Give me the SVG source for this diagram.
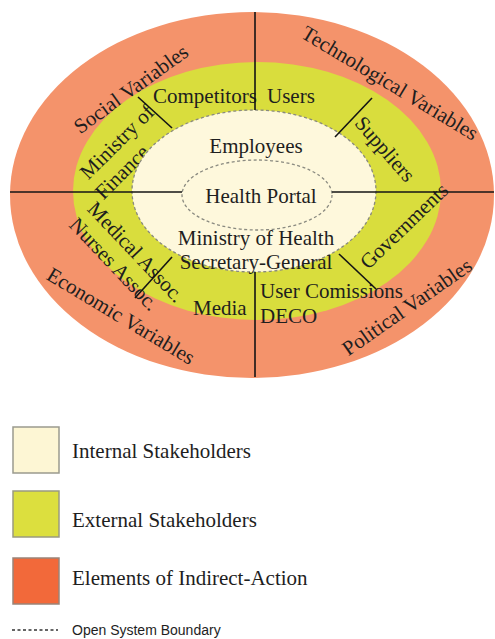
<svg xmlns="http://www.w3.org/2000/svg" width="495" height="639" viewBox="0 0 495 639">
  <style>
    .lbl { font-family: "Liberation Serif", "Times New Roman", serif; font-size: 21px; fill: #1e1e1e; }
    .mid { text-anchor: middle; }
    .sans { font-family: "Liberation Sans", Arial, sans-serif; font-size: 14px; fill: #1e1e1e; }
    .div { stroke: #141414; stroke-width: 1.6; fill: none; }
    .bound { stroke: #8a8a80; stroke-width: 1.3; stroke-dasharray: 3 2.5; }
  </style>
  <rect width="495" height="639" fill="#ffffff"/>

  <!-- Outer ring: elements of indirect action -->
  <g id="indirect-action">
    <ellipse cx="252" cy="195" rx="242" ry="183" fill="#F4936B"/>
    <text class="lbl mid" transform="translate(131,89) rotate(-36)" dy="7">Social Variables</text>
    <text class="lbl mid" transform="translate(390,83) rotate(31)" dy="7" font-size="20">Technological Variables</text>
    <text class="lbl mid" transform="translate(121,316) rotate(31)" dy="7">Economic Variables</text>
    <text class="lbl mid" transform="translate(407,307) rotate(-35)" dy="7">Political Variables</text>
  </g>

  <!-- Middle ring: external stakeholders -->
  <g id="external-stakeholders">
    <ellipse cx="257" cy="191" rx="184" ry="129" fill="#D9DD3D"/>
    <text class="lbl" x="153" y="103">Competitors</text>
    <text class="lbl" x="267" y="103">Users</text>
    <text class="lbl mid" transform="translate(117,142) rotate(-45)" dy="7">Ministry of</text>
    <text class="lbl mid" transform="translate(122,172) rotate(-45)" dy="7">Finance</text>
    <text class="lbl mid" transform="translate(385,149) rotate(49)" dy="7">Suppliers</text>
    <text class="lbl mid" transform="translate(404,226) rotate(-44)" dy="7">Governments</text>
    <text class="lbl mid" transform="translate(136,252) rotate(46.5)" dy="7">Medical Assoc.</text>
    <text class="lbl mid" transform="translate(114,264) rotate(46.5)" dy="7">Nurses Assoc.</text>
    <text class="lbl" x="193" y="315">Media</text>
    <text class="lbl" x="260" y="298">User Comissions</text>
    <text class="lbl" x="260" y="323">DECO</text>
  </g>

  <!-- Inner area: internal stakeholders -->
  <g id="internal-stakeholders">
    <ellipse cx="254" cy="191" rx="122" ry="81" fill="#FEF8DC" class="bound"/>
    <text class="lbl mid" x="256" y="153">Employees</text>
    <text class="lbl mid" x="256" y="245" font-size="20.5">Ministry of Health</text>
    <text class="lbl mid" x="256" y="269" font-size="20.5">Secretary-General</text>
  </g>

  <!-- Core -->
  <g id="health-portal">
    <ellipse cx="257" cy="195" rx="75" ry="35" fill="#FEF8DC" class="bound"/>
    <text class="lbl mid" x="261" y="203">Health Portal</text>
  </g>

  <!-- Dividing lines -->
  <g id="connectors" class="div">
    <line x1="10" y1="192" x2="182" y2="192"/>
    <line x1="332" y1="192" x2="494" y2="192"/>
    <line x1="255" y1="12" x2="255" y2="110"/>
    <line x1="255" y1="272" x2="255" y2="377"/>
    <line x1="138" y1="97" x2="172" y2="128"/>
    <line x1="372" y1="98" x2="335" y2="137"/>
    <line x1="172" y1="257" x2="135" y2="298"/>
    <line x1="339" y1="254" x2="376" y2="289"/>
  </g>

  <!-- Legend -->
  <g id="legend">
    <rect x="13" y="427" width="46" height="46" fill="#FDF6D4" stroke="#9a9a8e" stroke-width="1.5"/>
    <text class="lbl" x="72" y="458">Internal Stakeholders</text>
    <rect x="13" y="491" width="46" height="46" fill="#DCDF3E" stroke="#9a9a80" stroke-width="1.5"/>
    <text class="lbl" x="72" y="527">External Stakeholders</text>
    <rect x="13" y="558" width="46" height="46" fill="#F2693A" stroke="#9a8478" stroke-width="1.5"/>
    <text class="lbl" x="72" y="585">Elements of Indirect-Action</text>
    <line x1="12" y1="630" x2="58" y2="630" stroke="#333" stroke-width="1.3" stroke-dasharray="3 2.5"/>
    <text class="sans" x="72" y="635">Open System Boundary</text>
  </g>
</svg>
